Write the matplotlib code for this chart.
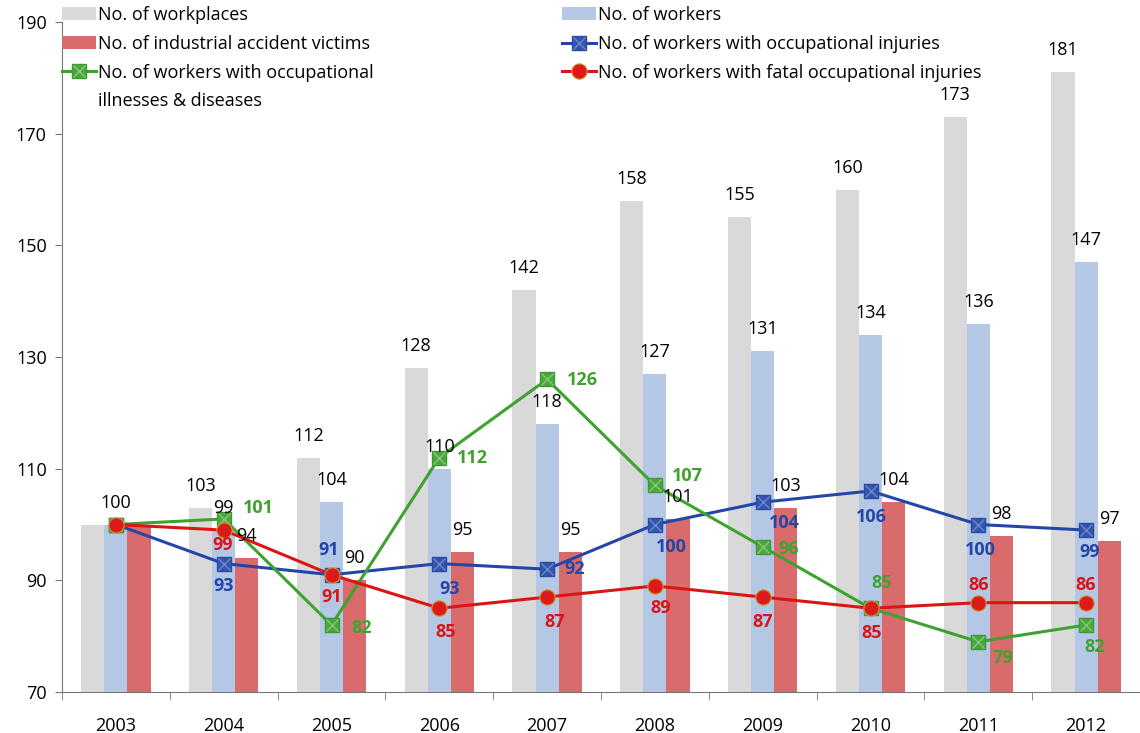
import numpy as np
import matplotlib.pyplot as plt

plt.rcParams['font.family'] = ['Open Sans', 'DejaVu Sans']

years = ['2003', '2004', '2005', '2006', '2007', '2008', '2009', '2010', '2011', '2012']
workplaces = [100, 103, 112, 128, 142, 158, 155, 160, 173, 181]
workers = [100, 99, 104, 110, 118, 127, 131, 134, 136, 147]
victims = [100, 94, 90, 95, 95, 101, 103, 104, 98, 97]
injuries = [100, 93, 91, 93, 92, 100, 104, 106, 100, 99]
illnesses = [100, 101, 82, 112, 126, 107, 96, 85, 79, 82]
fatal = [100, 99, 91, 85, 87, 89, 87, 85, 86, 86]

# label offsets in pixels (dx, dy), first year has one shared label
inj_off = [None, (0, -22), (-3, 25), (10, -25), (28, 0), (16, -22), (22, -21), (1, -26), (2, -25), (4, -22)]
ill_off = [None, (35, 11), (30, -3), (33, 0), (35, -1), (33, 9), (26, -2), (11, 25), (25, -16), (9, -22)]
fat_off = [None, (-1, -15), (0, -22), (6, -24), (8, -25), (6, -22), (0, -25), (1, -25), (0, 18), (0, 18)]

c_grey = '#d9d9d9'
c_lblue = '#b4c8e6'
c_lred = '#d96b6d'
c_blue = '#2446a8'
c_green = '#3ea22e'
c_red = '#dc1414'

fig = plt.figure(figsize=(11.4, 7.33), dpi=100)
ax = fig.add_axes([62 / 1140, 1 - 692 / 733, 1 - 62 / 1140, (692 - 22) / 733])

x = np.arange(len(years))
w = 0.215
b1 = ax.bar(x - w, np.array(workplaces) - 70, w, bottom=70, color=c_grey, label='No. of workplaces')
b2 = ax.bar(x, np.array(workers) - 70, w, bottom=70, color=c_lblue, label='No. of workers')
b3 = ax.bar(x + w, np.array(victims) - 70, w, bottom=70, color=c_lred, label='No. of industrial accident victims')

l_inj, = ax.plot(x, injuries, color=c_blue, lw=2.2, marker='s', ms=10, mfc='#3354b0', mec='#2a4aa0')
x_inj, = ax.plot(x, injuries, ls='none', marker='x', ms=9, mew=1, mec='#6d86c8')
l_ill, = ax.plot(x, illnesses, color=c_green, lw=2.2, marker='s', ms=10, mfc='#4aa83c', mec='#3c9a30')
x_ill, = ax.plot(x, illnesses, ls='none', marker='x', ms=9, mew=1, mec='#8ac47c')
l_fat, = ax.plot(x, fatal, color=c_red, lw=2.2, marker='o', ms=11, mfc='#dd1a1a', mec='#c89a30', mew=0.8)

fs = 13
for i in range(len(years)):
    if i == 0:
        ax.annotate(str(workers[i]), (x[i], workers[i]), xytext=(0, 22), textcoords='offset pixels',
                    ha='center', va='center', fontsize=fs)
        continue
    for xx, v in ((x[i] - w, workplaces[i]), (x[i], workers[i]), (x[i] + w, victims[i])):
        ax.annotate(str(v), (xx, v), xytext=(0, 22), textcoords='offset pixels',
                    ha='center', va='center', fontsize=fs)
    for vals, offs, col in ((injuries, inj_off, c_blue), (illnesses, ill_off, c_green), (fatal, fat_off, c_red)):
        ax.annotate(str(vals[i]), (x[i], vals[i]), xytext=offs[i], textcoords='offset pixels',
                    ha='center', va='center', fontsize=fs, fontweight='bold', color=col)

ax.set_ylim(70, 190)
ax.set_yticks(range(70, 191, 20))
ax.set_xlim(-0.5, 9.5)
ax.set_xticks(x)
ax.set_xticklabels(years)
ax.set_xticks(np.arange(-0.5, 9.6, 1), minor=True)
ax.tick_params(axis='x', which='major', length=0, pad=18, labelsize=fs)
ax.tick_params(axis='x', which='minor', length=6, color='#777777')
ax.tick_params(axis='y', length=5, color='#777777', labelsize=fs, pad=6)
for s in ('top', 'right'):
    ax.spines[s].set_visible(False)
for s in ('left', 'bottom'):
    ax.spines[s].set_color('#777777')

handles = [b1, b3, (l_ill, x_ill), b2, (l_inj, x_inj), l_fat]
labels = ['No. of workplaces', 'No. of industrial accident victims',
          'No. of workers with occupational', 'No. of workers',
          'No. of workers with occupational injuries', 'No. of workers with fatal occupational injuries']
leg = fig.legend(handles, labels, loc='upper left', bbox_to_anchor=(62 / 1140, 1 - 6 / 733), ncol=2,
                 frameon=False, fontsize=fs, handlelength=1.9, handletextpad=0.1, columnspacing=10.4,
                 labelspacing=0.6, borderpad=0, borderaxespad=0)

# second line of the green legend entry, handle stays on the first line
fig.canvas.draw()
tb = leg.get_texts()[2].get_window_extent()
fig.text(tb.x0 / 1140, (tb.y0 - 28) / 733, 'illnesses & diseases', fontsize=fs, va='bottom', ha='left')

fig.savefig('out.png', dpi=100)
